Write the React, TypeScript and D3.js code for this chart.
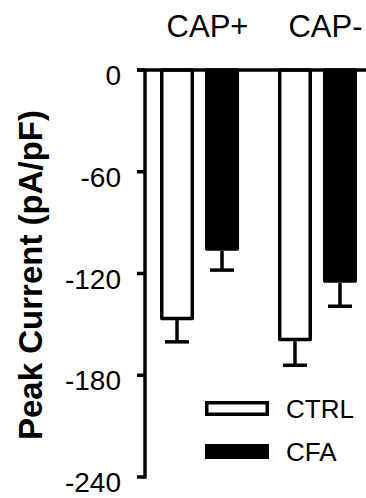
import * as d3 from "d3"

const groups = ["CAP+", "CAP-"]
const series = ["CTRL", "CFA"]
const means = [
  [-147.5, -106.6],
  [-159.9, -125.5],
]
const sems = [
  [12.8, 11.4],
  [14.2, 13.8],
]
const yTicks = [0, -60, -120, -180, -240]

const W = 366
const H = 498
const font = "'Liberation Sans', Arial, Helvetica, sans-serif"
const sw = 3.5

export default function App() {
  const y = d3.scaleLinear().domain([0, -240]).range([70, 477])
  const x0 = d3.scaleBand<string>().domain(groups).range([160, 357]).paddingInner(0.33)
  const x1 = d3.scaleBand<string>().domain(series).range([0, x0.bandwidth()]).paddingInner(0.244)
  const axisX = 145

  return (
    <svg width={W} height={H} style={{ position: "absolute", left: 0, top: 0 }} fontFamily={font}>
      <rect width={W} height={H} fill="#fff" />

      {/* group labels */}
      {groups.map((g) => (
        <text key={g} x={x0(g)! + x0.bandwidth() / 2 + 8} y={37} fontSize={31} textAnchor="middle">
          {g}
        </text>
      ))}

      {/* bars + error bars */}
      {groups.map((g, gi) =>
        series.map((s, si) => {
          const bx = x0(g)! + x1(s)!
          const bw = x1.bandwidth()
          const v = means[gi][si]
          const cx = bx + bw / 2
          const bottom = y(v)
          const errEnd = y(v - sems[gi][si])
          return (
            <g key={g + s}>
              <line x1={cx} x2={cx} y1={bottom} y2={errEnd} stroke="#000" strokeWidth={sw} />
              <line x1={cx - 12} x2={cx + 12} y1={errEnd} y2={errEnd} stroke="#000" strokeWidth={sw} />
              <rect
                x={bx + sw / 2}
                y={y(0)}
                width={bw - sw}
                height={bottom - y(0) - sw / 2}
                fill={si === 0 ? "#fff" : "#000"}
                stroke="#000"
                strokeWidth={sw}
                strokeLinejoin="round"
              />
            </g>
          )
        })
      )}

      {/* y axis */}
      <line x1={axisX} x2={axisX} y1={y(0)} y2={y(-240) + sw / 2} stroke="#000" strokeWidth={sw} />
      <line x1={137} x2={W} y1={y(0)} y2={y(0)} stroke="#000" strokeWidth={sw} />
      {yTicks.map((t) => (
        <g key={t}>
          <line x1={137} x2={axisX} y1={y(t)} y2={y(t)} stroke="#000" strokeWidth={sw} />
          <text x={121} y={y(t)} dy={15} fontSize={28} textAnchor="end">
            {t}
          </text>
        </g>
      ))}

      {/* y label */}
      <text
        transform={`translate(42,275) rotate(-90)`}
        fontSize={33}
        fontWeight="bold"
        textAnchor="middle"
      >
        Peak Current (pA/pF)
      </text>

      {/* legend */}
      {series.map((s, i) => {
        const ly = 401 + i * 43
        return (
          <g key={s}>
            <rect
              x={205 + sw / 2}
              y={ly + sw / 2}
              width={64 - sw}
              height={15 - sw}
              fill={i === 0 ? "#fff" : "#000"}
              stroke="#000"
              strokeWidth={sw}
            />
            <text x={286} y={ly + 17} fontSize={26}>
              {s}
            </text>
          </g>
        )
      })}
    </svg>
  )
}
